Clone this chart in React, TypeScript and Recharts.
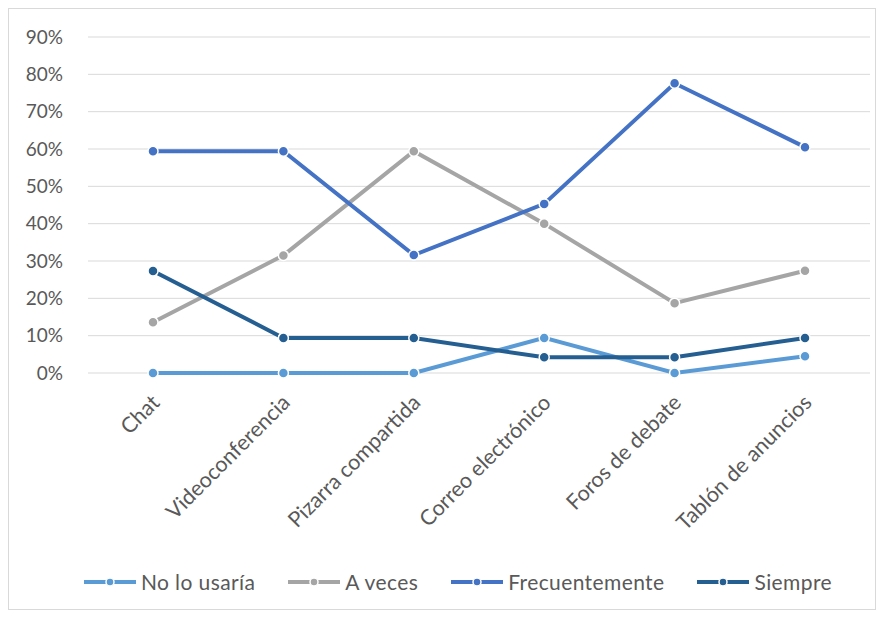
import { CartesianGrid, Legend, Line, LineChart, XAxis, YAxis } from "recharts";

const categories = [
  "Chat",
  "Videoconferencia",
  "Pizarra compartida",
  "Correo electrónico",
  "Foros de debate",
  "Tablón de anuncios",
];

const noLoUsaria = [0, 0, 0, 0.094, 0, 0.045];
const aVeces = [0.136, 0.315, 0.594, 0.4, 0.187, 0.274];
const frecuentemente = [0.594, 0.594, 0.316, 0.453, 0.776, 0.605];
const siempre = [0.273, 0.094, 0.094, 0.042, 0.042, 0.094];

const yTicks = [0, 0.1, 0.2, 0.3, 0.4, 0.5, 0.6, 0.7, 0.8, 0.9];

const series = [
  { key: "noLoUsaria", name: "No lo usaría", color: "#5b9bd5" },
  { key: "aVeces", name: "A veces", color: "#a5a5a5" },
  { key: "frecuentemente", name: "Frecuentemente", color: "#4472c4" },
  { key: "siempre", name: "Siempre", color: "#255e91" },
];

const data = categories.map((c, i) => ({
  name: c,
  noLoUsaria: noLoUsaria[i],
  aVeces: aVeces[i],
  frecuentemente: frecuentemente[i],
  siempre: siempre[i],
}));

const FONT = "Lato, 'Open Sans', sans-serif";
const TEXT = "#595959";

function XTick({ x, y, payload }: any) {
  const tx = x + 8;
  const ty = y + 23;
  return (
    <text
      x={tx}
      y={ty}
      transform={`rotate(-45 ${tx} ${ty})`}
      textAnchor="end"
      fill={TEXT}
      fontSize={21.5}
      fontFamily={FONT}
    >
      {payload.value}
    </text>
  );
}

function LegendContent() {
  return (
    <div
      style={{
        display: "flex",
        justifyContent: "center",
        gap: 32,
        fontFamily: FONT,
        fontSize: 21,
        letterSpacing: 0.4,
        color: TEXT,
        paddingLeft: 36,
      }}
    >
      {series.map((s) => (
        <div key={s.key} style={{ display: "flex", alignItems: "center", gap: 4 }}>
          <svg width={54} height={12}>
            <line x1={1} y1={6} x2={53} y2={6} stroke={s.color} strokeWidth={4} />
            <circle cx={27} cy={6} r={4} fill={s.color} stroke="#fff" strokeWidth={1.5} />
          </svg>
          <span>{s.name}</span>
        </div>
      ))}
    </div>
  );
}

export default function App() {
  return (
    <div style={{ width: 866, height: 600, border: "1px solid #d9d9d9", background: "#fff" }}>
      <LineChart
        width={866}
        height={600}
        data={data}
        margin={{ top: 28, right: 5, bottom: 0, left: 0 }}
      >
        <CartesianGrid vertical={false} stroke="#d9d9d9" />
        <XAxis
          dataKey="name"
          axisLine={false}
          tickLine={false}
          interval={0}
          height={196}
          padding={{ left: 65, right: 65 }}
          tick={<XTick />}
        />
        <YAxis
          width={79}
          domain={[0, 0.9]}
          ticks={yTicks}
          axisLine={false}
          tickLine={false}
          tickSize={0}
          tickMargin={25}
          tickFormatter={(v: number) => `${Math.round(v * 100)}%`}
          tick={{ fill: TEXT, fontSize: 19, fontFamily: FONT }}
        />
        <Legend verticalAlign="bottom" height={40} content={<LegendContent />} />
        {series.map((s) => (
          <Line
            key={s.key}
            type="linear"
            dataKey={s.key}
            name={s.name}
            stroke={s.color}
            strokeWidth={4}
            dot={{ r: 5, fill: s.color, stroke: "#fff", strokeWidth: 1.5 }}
            activeDot={false}
            isAnimationActive={false}
          />
        ))}
      </LineChart>
    </div>
  );
}
